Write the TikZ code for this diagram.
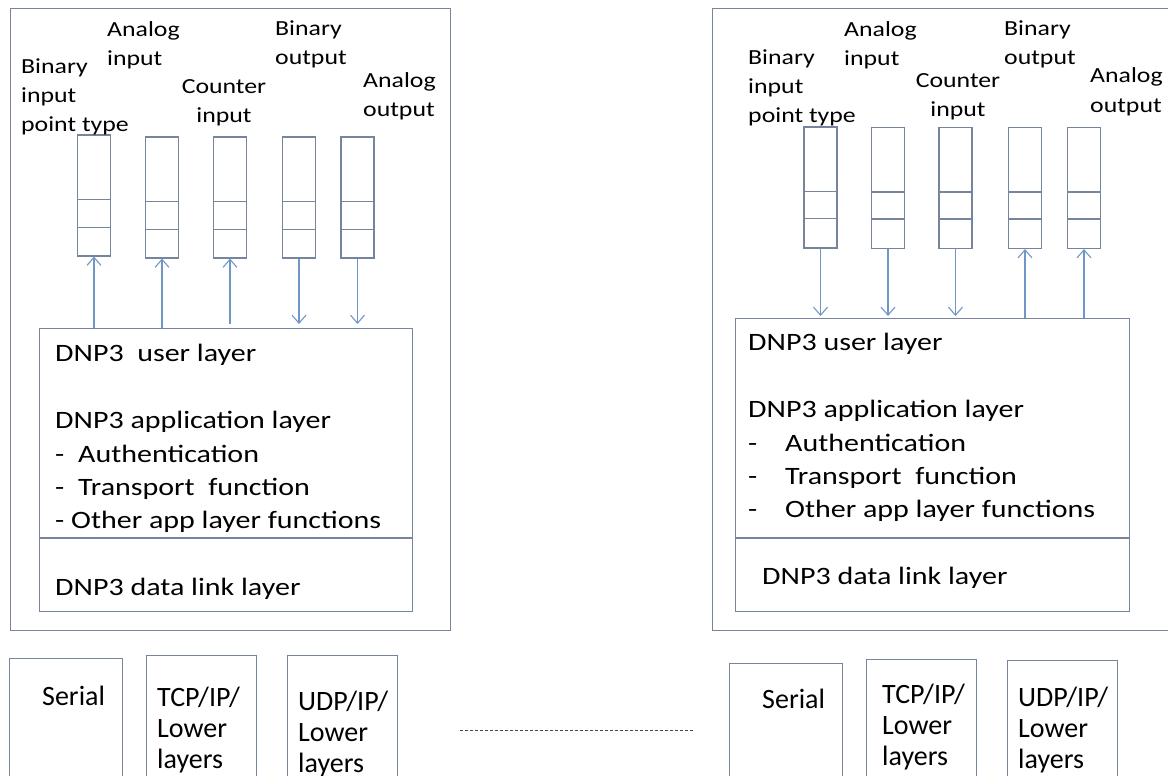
\documentclass[tikz,border=0pt]{standalone}
\usepackage{fontspec}
\setmainfont{Carlito}[FakeStretch=1.2]
\newfontfamily\plainfont{Carlito}
\usetikzlibrary{arrows.meta}
\definecolor{edgegray}{RGB}{118,132,156}
\definecolor{sigblue}{RGB}{112,150,200}
\definecolor{dashgray}{RGB}{70,70,70}

\begin{document}
\begin{tikzpicture}[x=1pt,y=-1pt,
		box/.style={draw=edgegray, line width=1.1pt},
		frame/.style={box, anchor=north west, inner sep=0pt},
		pointbox/.style={box, minimum width=33pt, minimum height=121pt, inner sep=0pt},
		sig/.style={draw=sigblue, line width=1.1pt, -{Straight Barb[length=8pt,width=14pt]}},
		lbl/.style={align=left, anchor=base west, inner sep=0pt, font=\fontsize{21.5}{29}\selectfont},
		layertxt/.style={anchor=base west, inner sep=0pt, font=\fontsize{25}{33}\selectfont},
		linktxt/.style={align=left, anchor=base west, inner sep=0pt, font=\plainfont\fontsize{28}{31}\selectfont}]
		\useasboundingbox (0,0) rectangle (1168,776);
		\clip (0,0) rectangle (1168,776);

		% Outstation side (left).
		\node[frame, minimum width=440pt, minimum height=622pt] (devL) at (10,8) {};
		\node[frame, minimum width=373pt, minimum height=283pt] (stackL) at (39,328) {};
		\draw[box] (stackL.west |- 0,538) -- (stackL.east |- 0,538); % Data link split.

		\node[pointbox] (pL1) at (94,195.5) {};
		\node[pointbox] (pL2) at (162,197.5) {};
		\node[pointbox] (pL3) at (230,197.5) {};
		\node[pointbox] (pL4) at (299,197.5) {};
		\node[pointbox] (pL5) at (357.5,197.5) {};
		\draw[box] (pL1.north west) ++(0,65) -- ++(33,0) ++(-33,28) -- ++(33,0);
		\draw[box] (pL2.north west) ++(0,65) -- ++(33,0) ++(-33,28) -- ++(33,0);
		\draw[box] (pL3.north west) ++(0,65) -- ++(33,0) ++(-33,28) -- ++(33,0);
		\draw[box] (pL4.north west) ++(0,65) -- ++(33,0) ++(-33,28) -- ++(33,0);
		\draw[box] (pL5.north west) ++(0,65) -- ++(33,0) ++(-33,28) -- ++(33,0);

		\draw[sig] (stackL.north -| pL1) -- (pL1.south);
		\draw[sig] (stackL.north -| pL2) -- (pL2.south);
		\draw[sig, shorten <=4pt] (stackL.north -| pL3) -- (pL3.south);
		\draw[sig, shorten >=4pt] (pL4.south) -- (stackL.north -| pL4);
		\draw[sig, shorten >=4pt] (pL5.south) -- (stackL.north -| pL5);

		\node[lbl] (biL) at (21,131) {Binary\\input\\point type};
		\node[lbl] (aiL) at (107,66) {Analog\\input};
		\node[lbl, align=center, anchor=base] (ciL) at (224,122) {Counter\\input};
		\node[lbl] (boL) at (275,65) {Binary\\output};
		\node[lbl] (aoL) at (363,117) {Analog\\output};

		\node[layertxt] (userL) at (55,361) {DNP3~~user layer};
		\node[layertxt] (appL) at (55,428) {DNP3 application layer};
		\node[layertxt] (authL) at (55,462) {\makebox[23pt][l]{-}Authentication};
		\node[layertxt] (tranL) at (55,495) {\makebox[23pt][l]{-}Transport~~function};
		\node[layertxt] (othL) at (55,528) {\makebox[16pt][l]{-}Other app layer functions};
		\node[layertxt] (linkL) at (55,595) {DNP3 data link layer};

		% Master side (right).
		\node[frame, minimum width=463pt, minimum height=622pt] (devR) at (712,8) {};
		\node[frame, minimum width=394pt, minimum height=293pt] (stackR) at (735,318) {};
		\draw[box] (stackR.west |- 0,538) -- (stackR.east |- 0,538); % Data link split.

		\node[pointbox] (pR1) at (820.5,187.5) {};
		\node[pointbox] (pR2) at (888,188) {};
		\node[pointbox] (pR3) at (955.5,188) {};
		\node[pointbox] (pR4) at (1025,188) {};
		\node[pointbox] (pR5) at (1084,188) {};
		\draw[box] (pR1.north west) ++(0,65) -- ++(33,0) ++(-33,27) -- ++(33,0);
		\draw[box] (pR2.north west) ++(0,65) -- ++(33,0) ++(-33,27) -- ++(33,0);
		\draw[box] (pR3.north west) ++(0,65) -- ++(33,0) ++(-33,27) -- ++(33,0);
		\draw[box] (pR4.north west) ++(0,65) -- ++(33,0) ++(-33,27) -- ++(33,0);
		\draw[box] (pR5.north west) ++(0,65) -- ++(33,0) ++(-33,27) -- ++(33,0);

		\draw[sig, shorten >=2pt] (pR1.south) -- (stackR.north -| pR1);
		\draw[sig, shorten >=2pt] (pR2.south) -- (stackR.north -| pR2);
		\draw[sig, shorten >=2pt] (pR3.south) -- (stackR.north -| pR3);
		\draw[sig] (stackR.north -| pR4) -- (pR4.south);
		\draw[sig] (stackR.north -| pR5) -- (pR5.south);

		\node[lbl] (biR) at (748,122) {Binary\\input\\point type};
		\node[lbl] (aiR) at (844,66) {Analog\\input};
		\node[lbl, align=center, anchor=base] (ciR) at (958,117) {Counter\\input};
		\node[lbl] (boR) at (1004,65) {Binary\\output};
		\node[lbl] (aoR) at (1090,112) {Analog\\output};

		\node[layertxt] (userR) at (748,350) {DNP3 user layer};
		\node[layertxt] (appR) at (748,417) {DNP3 application layer};
		\node[layertxt] (authR) at (748,451) {\makebox[37pt][l]{-}Authentication};
		\node[layertxt] (tranR) at (748,484) {\makebox[37pt][l]{-}Transport~~function};
		\node[layertxt] (othR) at (748,517) {\makebox[37pt][l]{-}Other app layer functions};
		\node[layertxt] (linkR) at (762,584) {DNP3 data link layer};

		% Lower layers.
		\node[frame, minimum width=113pt, minimum height=160pt] (serBoxL) at (9,658) {};
		\node[frame, minimum width=110pt, minimum height=160pt] (tcpBoxL) at (146,655) {};
		\node[frame, minimum width=110pt, minimum height=160pt] (udpBoxL) at (287,655) {};
		\node[frame, minimum width=113pt, minimum height=160pt] (serBoxR) at (729,663) {};
		\node[frame, minimum width=110pt, minimum height=160pt] (tcpBoxR) at (866,659) {};
		\node[frame, minimum width=110pt, minimum height=160pt] (udpBoxR) at (1007,660) {};

		\node[linktxt] (serL) at (42,705) {Serial};
		\node[linktxt] (tcpL) at (157,768) {TCP/IP/\\Lower\\layers};
		\node[linktxt] (udpL) at (298,772) {UDP/IP/\\Lower\\layers};
		\node[linktxt] (serR) at (762,708) {Serial};
		\node[linktxt] (tcpR) at (882,765) {TCP/IP/\\Lower\\layers};
		\node[linktxt] (udpR) at (1018,768) {UDP/IP/\\Lower\\layers};

		\coordinate (gapA) at (460,730);
		\coordinate (gapB) at (693,730);
		\draw[dashgray, line width=1pt, dash pattern=on 3pt off 2pt] (gapA) -- (gapB); % Link between sides.
	\end{tikzpicture}
\end{document}
